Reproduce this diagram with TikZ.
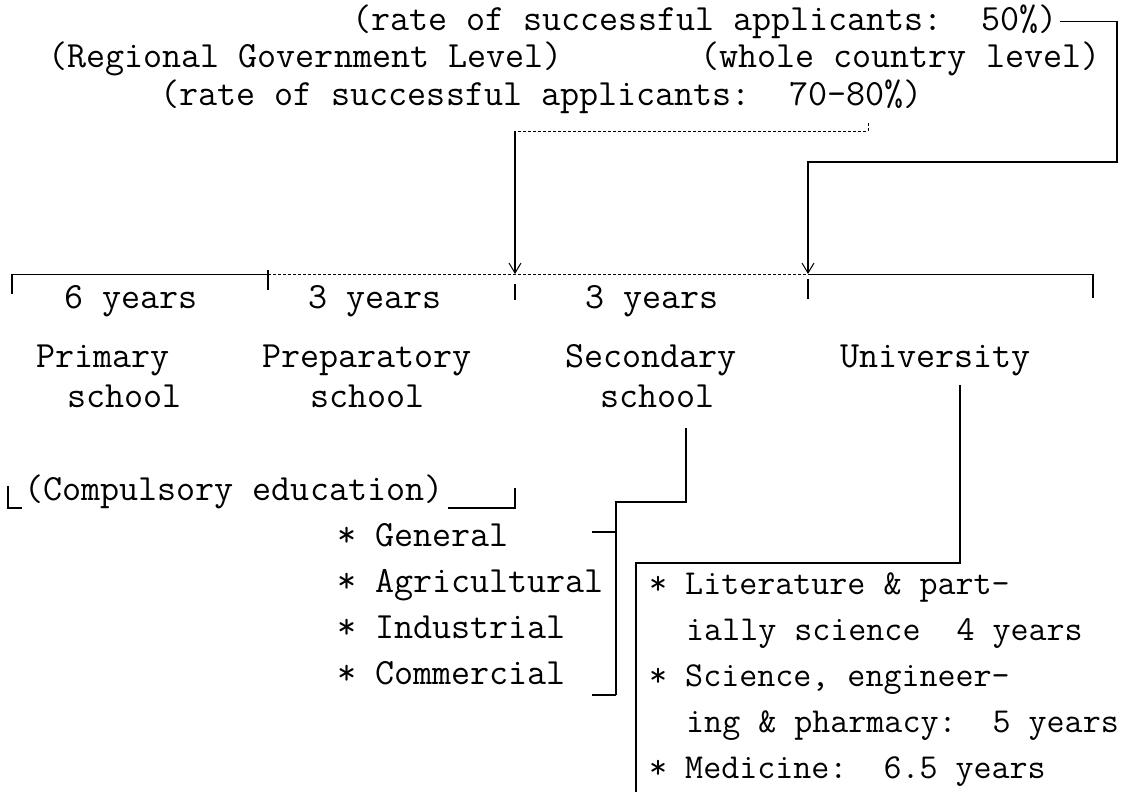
\documentclass[tikz,border=0pt]{standalone}
\usetikzlibrary{arrows.meta}
\begin{document}
\begin{tikzpicture}[x=1pt,y=-1pt,
  txt/.style={font=\fontsize{37}{40}\selectfont\ttfamily, inner sep=0pt, anchor=mid west},
  txtu/.style={font=\fontsize{35}{40}\selectfont\ttfamily, inner sep=0pt, anchor=mid west},
  heavy/.style={line width=2.6pt},
  medln/.style={line width=1.6pt},
  light/.style={line width=0.9pt},
  arr/.style={-{Straight Barb[length=10pt,width=12pt,line width=1pt]}}]
\useasboundingbox (0,0) rectangle (1130,795);

% top texts
\node[txt] (r50)   at (352,28)  {(rate of successful applicants:\ \ 50\%)};
\node[txt] (reg)   at (48,65)   {(Regional Government Level)};
\node[txt] (whole) at (700,65)  {(whole country level)};
\node[txt] (r70)   at (160,103) {(rate of successful applicants:\ \ 70-80\%)};

% timeline coordinates
\coordinate (t0) at (12,274);
\coordinate (t1) at (268,274);
\coordinate (t2) at (515,274);
\coordinate (t3) at (808,274);
\coordinate (t4) at (1093,274);

% 50% connector
\coordinate (k1) at (1117,162);
\draw[medln,arr] ([xshift=3pt]r50.east) -| (k1) -| (t3);

% 70-80% connector
\coordinate (k2a) at (868,123);
\coordinate (k2) at (868,131);
\coordinate (k3) at (515,131);
\draw[light,densely dashed] (k2a) -- (k2) -- (k3);
\draw[medln,arr] (k3) -- (t2);

% timeline
\draw[light] (t0) -- (t1);
\draw[light,densely dashed] (t1) -- (t3);
\draw[light] (t3) -- (t4);
\draw[medln] (t0) -- ++(0,20);
\draw[medln] (t1) ++(0,-4) -- ++(0,20);
\draw[medln] (t2) ++(0,10) -- ++(0,16);
\draw[medln] (t3) ++(0,5) -- ++(0,20);
\draw[medln] (t4) -- ++(0,24);

% durations
\node[txt] (y6)  at (64,306)  {6 years};
\node[txt] (y3a) at (308,306) {3 years};
\node[txt] (y3b) at (585,306) {3 years};

% schools
\node[txt] (prim)  at (36,365)  {Primary};
\node[txt] (prims) at (67,405)  {school};
\node[txt] (prep)  at (262,365) {Preparatory};
\node[txt] (preps) at (310,405) {school};
\node[txt] (sec)   at (565,365) {Secondary};
\node[txt] (secs)  at (600,405) {school};
\node[txt] (univ)  at (840,365) {University};

% compulsory education
\node[txt] (comp) at (24,498) {(Compulsory education)};
\coordinate (cl1) at (8,486);
\coordinate (cl2) at (8,508);
\coordinate (cl3) at (22,508);
\draw[medln] (cl1) -- (cl2) -- (cl3);
\coordinate (cr2) at (515,508);
\coordinate (cr3) at (515,488);
\draw[medln] ([xshift=4pt]comp.east |- cr2) -- (cr2) -- (cr3);

% secondary branches
\coordinate (s1) at (686,428);
\coordinate (s2) at (686,502);
\coordinate (s3) at (616,502);
\coordinate (s4) at (616,695);
\coordinate (s5) at (592,695);
\coordinate (s6) at (592,532);
\coordinate (s7) at (616,532);
\draw[heavy] (s1) -- (s2) -- (s3) -- (s4);
\draw[medln] (s6) -- (s7);
\draw[medln] (s5) -- (s4);
\node[txt] (gen) at (337,544) {* General};
\node[txt] (agr) at (337,590) {* Agricultural};
\node[txt] (ind) at (337,636) {* Industrial};
\node[txt] (com) at (337,682) {* Commercial};

% university branches
\coordinate (u1) at (960,385);
\coordinate (u2) at (960,563);
\coordinate (u3) at (636,563);
\coordinate (u4) at (636,792);
\draw[heavy] (u1) -- (u2) -- (u3) -- (u4);
\node[txtu] (lit)   at (649,592) {* Literature \& part-};
\node[txtu] (ially) at (686,638) {ially science\ \ 4 years};
\node[txtu] (sci)   at (649,684) {* Science, engineer-};
\node[txtu] (ing)   at (686,730) {ing \& pharmacy:\ \ 5 years};
\node[txtu] (med)   at (649,776) {* Medicine:\ \ 6.5 years};
\end{tikzpicture}
\end{document}
